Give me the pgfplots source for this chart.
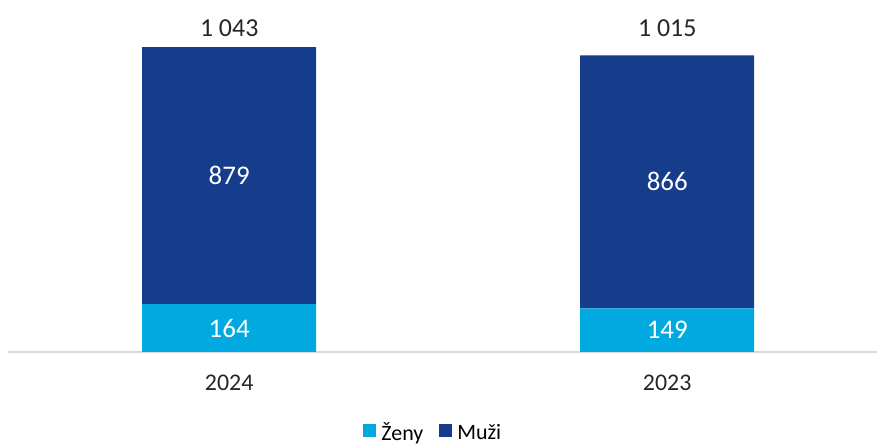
\documentclass[border=0pt]{standalone}
\usepackage{pgfplots}
\usepackage{pgfplotstable}
\pgfplotsset{compat=1.18}
\usepackage{fontspec}
\setmainfont{Carlito}
\definecolor{lb}{RGB}{0,169,224}
\definecolor{db}{RGB}{22,60,140}
\definecolor{txt}{RGB}{38,38,38}
\pgfplotstableread{
x zeny muzi total
0 164 879 1043
1 149 866 1015
}\data
\pgfplotsset{common/.style={
  at={(8bp,95bp)}, anchor=south west,
  scale only axis, width=869bp, height=352bp,
  xmin=-0.505, xmax=1.479, ymin=0, ymax=1204,
  /pgf/number format/assume math mode=true,
  /pgf/number format/1000 sep={\ },
}}
\begin{document}
\begin{tikzpicture}
\path[use as bounding box] (0,0) rectangle (877bp,447bp);
\begin{axis}[common,
  ybar stacked, bar width=174bp,
  axis y line=none,
  axis x line*=bottom,
  axis line style={draw=black!15, line width=1.5bp},
  xtick={0,1}, xticklabels={2024,2023},
  major tick length=0pt,
  xticklabel style={font=\fontsize{24}{24}\selectfont, text=txt, yshift=-19bp},
  legend style={at={(0.4895,-0.228)}, anchor=center, draw=none, legend columns=2,
    font=\fontsize{22}{22}\selectfont, column sep=3bp, inner sep=1bp,
    /tikz/every even column/.append style={column sep=14bp}},
]
\addplot[fill=lb, draw=none,
  legend image code/.code={\fill[lb] (0bp,-5bp) rectangle (13bp,8bp);}]
  table[x=x,y=zeny]{\data};
\addlegendentry{Ženy}
\addplot[fill=db, draw=none,
  legend image code/.code={\fill[db] (0bp,-5bp) rectangle (13bp,8bp);}]
  table[x=x,y=muzi]{\data};
\addlegendentry{Muži}
\end{axis}
\begin{axis}[common, hide axis]
\addplot[only marks, mark=none, nodes near coords, point meta=explicit,
  every node near coord/.append style={anchor=center, text=white, font=\fontsize{27}{27}\selectfont}]
  table[x=x, y expr=\thisrow{zeny}/2, meta=zeny]{\data};
\addplot[only marks, mark=none, nodes near coords, point meta=explicit,
  every node near coord/.append style={anchor=center, text=white, font=\fontsize{27}{27}\selectfont}]
  table[x=x, y expr=\thisrow{zeny}+\thisrow{muzi}/2, meta=muzi]{\data};
\addplot[only marks, mark=none, nodes near coords, point meta=explicit,
  every node near coord/.append style={anchor=base, text=txt, font=\fontsize{26}{26}\selectfont, yshift=11bp}]
  table[x=x, y expr=1043, meta=total]{\data};
\end{axis}
\end{tikzpicture}
\end{document}
